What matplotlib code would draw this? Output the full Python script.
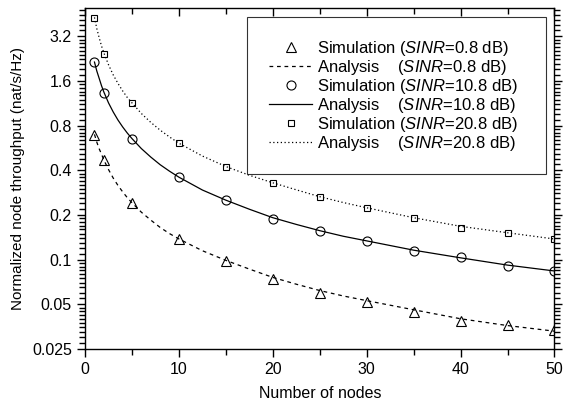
import matplotlib
matplotlib.use('Agg')
import matplotlib.pyplot as plt
from matplotlib.ticker import FixedLocator, FixedFormatter

plt.rcParams['font.family'] = ['Liberation Sans', 'DejaVu Sans']
plt.rcParams['mathtext.fontset'] = 'custom'
plt.rcParams['mathtext.rm'] = 'Liberation Sans'
plt.rcParams['mathtext.it'] = 'Liberation Sans:italic'

# simulation points
sim_x = [1, 2, 5, 10, 15, 20, 25, 30, 35, 40, 45, 50]
sim_08 = [0.695, 0.467, 0.241, 0.138, 0.098, 0.074, 0.060, 0.052, 0.0444, 0.0388, 0.0364, 0.0334]
sim_108 = [2.16, 1.34, 0.654, 0.361, 0.251, 0.188, 0.157, 0.134, 0.114, 0.104, 0.091, 0.084]
sim_208 = [4.28, 2.44, 1.14, 0.61, 0.42, 0.327, 0.264, 0.223, 0.190, 0.164, 0.151, 0.138]

# analysis curves
ana_x = [1, 1.25, 1.5, 1.75, 2, 2.5, 3, 3.5, 4, 4.5, 5, 6, 7, 8, 9, 10, 12.5, 15, 17.5, 20,
         22.5, 25, 27.5, 30, 35, 40, 45, 50]
ana_08 = [0.70, 0.62, 0.56, 0.515, 0.47, 0.405, 0.355, 0.317, 0.287, 0.262, 0.242, 0.209,
          0.185, 0.165, 0.150, 0.138, 0.115, 0.099, 0.0865, 0.076, 0.0684, 0.062, 0.057,
          0.053, 0.046, 0.040, 0.036, 0.033]
ana_108 = [2.15, 1.87, 1.67, 1.49, 1.35, 1.14, 0.99, 0.875, 0.786, 0.714, 0.655, 0.561,
           0.492, 0.437, 0.395, 0.36, 0.295, 0.252, 0.219, 0.192, 0.173, 0.157, 0.144,
           0.134, 0.116, 0.103, 0.092, 0.084]
ana_208 = [4.3, 3.61, 3.14, 2.76, 2.48, 2.06, 1.76, 1.545, 1.375, 1.24, 1.14, 0.967,
           0.843, 0.747, 0.672, 0.61, 0.50, 0.425, 0.371, 0.33, 0.296, 0.266, 0.243,
           0.224, 0.192, 0.168, 0.152, 0.138]

y_ticks = [0.025, 0.05, 0.1, 0.2, 0.4, 0.8, 1.6, 3.2]
y_labels = ['0.025', '0.05', '0.1', '0.2', '0.4', '0.8', '1.6', '3.2']

fig = plt.figure(figsize=(5.71, 4.04), dpi=100)
ax = fig.add_axes([0.149, 0.136, 0.822, 0.845])

mk = dict(linestyle='none', markerfacecolor='none', markeredgecolor='black', markeredgewidth=0.8)
ax.plot(sim_x, sim_08, marker='^', markersize=6.5, label='Simulation ($\\mathit{SINR}$=0.8 dB)    ', **mk)
ax.plot(ana_x, ana_08, color='black', lw=0.9, linestyle=(0, (3, 3)),
        label='Analysis    ($\\mathit{SINR}$=0.8 dB)')
ax.plot(sim_x, sim_108, marker='o', markersize=6.5, label='Simulation ($\\mathit{SINR}$=10.8 dB)', **mk)
ax.plot(ana_x, ana_108, color='black', lw=0.9, linestyle='-',
        label='Analysis    ($\\mathit{SINR}$=10.8 dB)')
ax.plot(sim_x, sim_208, marker='s', markersize=4.5, label='Simulation ($\\mathit{SINR}$=20.8 dB)', **mk)
ax.plot(ana_x, ana_208, color='black', lw=0.9, linestyle=(0, (1, 2)),
        label='Analysis    ($\\mathit{SINR}$=20.8 dB)')

ax.set_yscale('log', base=2)
ax.set_xlim(0, 50)
ax.set_ylim(0.025, 5.0)

ax.yaxis.set_major_locator(FixedLocator(y_ticks))
ax.yaxis.set_major_formatter(FixedFormatter(y_labels))
minors = []
for a in y_ticks:
    for k in range(1, 10):
        v = a * (1 + k / 10)
        if v < 5.0:
            minors.append(v)
ax.yaxis.set_minor_locator(FixedLocator(minors))
ax.yaxis.set_minor_formatter(FixedFormatter([''] * len(minors)))

ax.set_xticks([0, 10, 20, 30, 40, 50])
ax.set_xticks([5, 15, 25, 35, 45], minor=True)

ax.tick_params(which='both', direction='out', top=True, right=True, labelsize=11.5, width=1)
ax.tick_params(which='major', length=6)
ax.tick_params(which='minor', length=4)
# top ticks point inward
for t in ax.xaxis.get_ticklines(minor=False)[1::2] + ax.xaxis.get_ticklines(minor=True)[1::2]:
    t.set_marker(3)

for s in ax.spines.values():
    s.set_linewidth(1.0)

ax.set_xlabel('Number of nodes', fontsize=11.5, labelpad=6)
ax.set_ylabel('Normalized node throughput (nat/s/Hz)', fontsize=11, labelpad=5)

leg = ax.legend(loc='upper right', bbox_to_anchor=(0.981, 0.9725), borderaxespad=0,
                fontsize=12, frameon=True, fancybox=False, edgecolor='black',
                handlelength=2.6, handletextpad=0.3, labelspacing=0.0, borderpad=1.3)
leg.get_frame().set_linewidth(0.8)

fig.savefig('out.png', dpi=100)
